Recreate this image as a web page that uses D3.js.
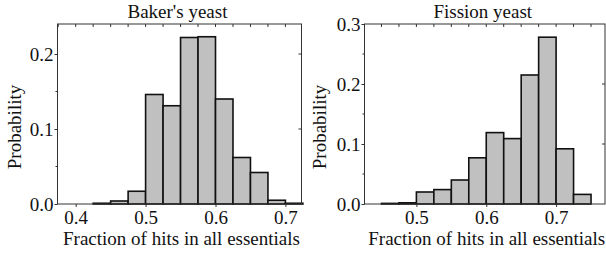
<!DOCTYPE html>
<html>
<head>
<meta charset="utf-8">
<script src="https://cdn.jsdelivr.net/npm/d3@7"></script>
<style>
  body { margin: 0; background: #fff; }
  svg text { font-family: "Liberation Serif", "Times New Roman", serif; fill: #111; }
</style>
</head>
<body>
<div id="chart"></div>
<script>
// bin width is 0.025, each bin given by its left edge
var binWidth = 0.025;

var bakerBins   = [0.400, 0.425, 0.450, 0.475, 0.500, 0.525, 0.550, 0.575, 0.600, 0.625, 0.650, 0.675, 0.700];
var bakerProb   = [0.000, 0.001, 0.004, 0.017, 0.146, 0.131, 0.222, 0.223, 0.140, 0.062, 0.042, 0.005, 0.001];
var bakerTicksX = [0.4, 0.5, 0.6, 0.7];
var bakerTicksY = [0.0, 0.1, 0.2];

var fissionBins   = [0.450, 0.475, 0.500, 0.525, 0.550, 0.575, 0.600, 0.625, 0.650, 0.675, 0.700, 0.725, 0.750];
var fissionProb   = [0.001, 0.002, 0.020, 0.024, 0.040, 0.077, 0.119, 0.109, 0.215, 0.278, 0.092, 0.016, 0.000];
var fissionTicksX = [0.5, 0.6, 0.7];
var fissionTicksY = [0.0, 0.1, 0.2, 0.3];

var fontSize = 19;

var svg = d3.select("#chart").append("svg")
    .attr("width", 606)
    .attr("height", 255);

function drawPanel(opt) {
    var x = d3.scaleLinear().domain(opt.xDomain).range([opt.left, opt.right]);
    var y = d3.scaleLinear().domain(opt.yDomain).range([opt.bottom, opt.top]);
    var g = svg.append("g");

    // bars
    g.selectAll("rect.bar")
        .data(opt.bins.map(function (b, i) { return { x0: b, p: opt.prob[i] }; }))
        .enter().append("rect")
        .attr("class", "bar")
        .attr("x", function (d) { return x(d.x0); })
        .attr("width", function (d) { return x(d.x0 + binWidth) - x(d.x0); })
        .attr("y", function (d) { return y(d.p); })
        .attr("height", function (d) { return y(0) - y(d.p); })
        .attr("fill", "#c0c0c0")
        .attr("stroke", "#111")
        .attr("stroke-width", 1.6);

    // frame
    g.append("rect")
        .attr("x", opt.left).attr("y", opt.top)
        .attr("width", opt.right - opt.left).attr("height", opt.bottom - opt.top)
        .attr("fill", "none").attr("stroke", "#333").attr("stroke-width", 1);

    // minor ticks along top (every bin edge) pointing in
    var minor = d3.range(Math.ceil(opt.xDomain[0] / binWidth), Math.floor(opt.xDomain[1] / binWidth) + 1)
        .map(function (k) { return k * binWidth; });
    g.selectAll("line.topTick").data(minor).enter().append("line")
        .attr("x1", function (d) { return x(d); }).attr("x2", function (d) { return x(d); })
        .attr("y1", opt.top).attr("y2", opt.top + 3)
        .attr("stroke", "#333");

    // bottom axis
    var xAxis = g.append("g")
        .attr("transform", "translate(0," + opt.bottom + ")")
        .call(d3.axisBottom(x).tickValues(opt.ticksX).tickFormat(d3.format(".1f")).tickSize(3).tickPadding(4));
    xAxis.select(".domain").remove();
    xAxis.selectAll("text").attr("font-size", fontSize).attr("font-family", "Liberation Serif");
    xAxis.selectAll("line").attr("stroke", "#333");

    // left axis
    var yAxis = g.append("g")
        .attr("transform", "translate(" + opt.left + ",0)")
        .call(d3.axisLeft(y).tickValues(opt.ticksY).tickFormat(d3.format(".1f")).tickSize(3).tickPadding(1));
    yAxis.select(".domain").remove();
    yAxis.selectAll("text").attr("font-size", fontSize).attr("font-family", "Liberation Serif");
    yAxis.selectAll("line").attr("stroke", "#333");

    // minor ticks on left axis halfway between majors
    var halfTicks = opt.ticksY.slice(0, -1).map(function (d) { return d + 0.05; })
        .filter(function (d) { return d < opt.yDomain[1]; });
    g.selectAll("line.leftMinor").data(halfTicks).enter().append("line")
        .attr("x1", opt.left - 2).attr("x2", opt.left)
        .attr("y1", function (d) { return y(d); }).attr("y2", function (d) { return y(d); })
        .attr("stroke", "#333");

    // right side ticks pointing in
    g.selectAll("line.rightTick").data(opt.ticksY.filter(function (d) { return d > 0 && d < opt.yDomain[1]; }))
        .enter().append("line")
        .attr("x1", opt.right).attr("x2", opt.right - 3)
        .attr("y1", function (d) { return y(d); }).attr("y2", function (d) { return y(d); })
        .attr("stroke", "#333");

    // labels
    g.append("text")
        .attr("x", (opt.left + opt.right) / 2 - 2).attr("y", 18)
        .attr("text-anchor", "middle").attr("font-size", fontSize)
        .text(opt.title);
    g.append("text")
        .attr("x", (opt.left + opt.right) / 2 + 2).attr("y", 245)
        .attr("text-anchor", "middle").attr("font-size", fontSize)
        .text("Fraction of hits in all essentials");
    g.append("text")
        .attr("transform", "translate(" + opt.yLabelX + ",127) rotate(-90)")
        .attr("text-anchor", "middle").attr("font-size", fontSize)
        .text("Probability");
}

drawPanel({
    title: "Baker's yeast",
    bins: bakerBins, prob: bakerProb,
    ticksX: bakerTicksX, ticksY: bakerTicksY,
    xDomain: [0.374, 0.723], yDomain: [0, 0.24],
    left: 57.5, right: 301.5, top: 24, bottom: 204,
    yLabelX: 21
});

drawPanel({
    title: "Fission yeast",
    bins: fissionBins, prob: fissionProb,
    ticksX: fissionTicksX, ticksY: fissionTicksY,
    xDomain: [0.4257, 0.77], yDomain: [0, 0.3],
    left: 364.5, right: 605, top: 24, bottom: 204,
    yLabelX: 326
});
</script>
</body>
</html>
